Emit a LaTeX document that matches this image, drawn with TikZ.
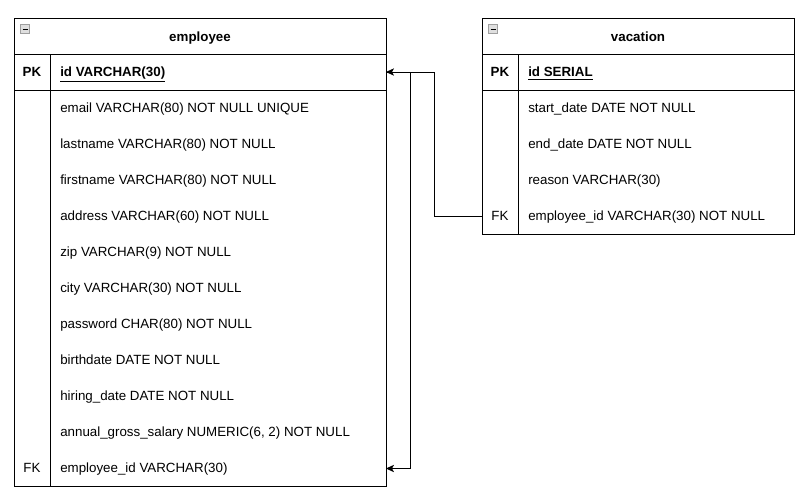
\documentclass[tikz,border=0pt]{standalone}
\usepackage{fontspec}
\setmainfont{Liberation Sans}
\usetikzlibrary{arrows.meta,positioning}

\tikzset{
tbl/.style={draw=black, line width=0.75pt},
icon/.style={draw=gray!75, fill=gray!25, line width=0.6pt},
txt/.style={inner sep=0pt, text height=7.2pt, text depth=2pt},
ttl/.style={txt, font=\fontsize{10}{12}\selectfont\bfseries},
keycol/.style={txt, font=\fontsize{10}{12}\selectfont},
fld/.style={txt, anchor=west, font=\fontsize{10}{12}\selectfont},
rel/.style={line width=0.75pt, -{Stealth[length=6pt,width=5.5pt,inset=1.5pt]}}
}

\begin{document}
\begin{tikzpicture}[x=0.75pt,y=-0.75pt]
\useasboundingbox (0,0) rectangle (808,501);

% tabelle employee
\draw[tbl] (14,18) rectangle (386,486);
\draw[tbl] (14,54) -- (386,54);
\draw[tbl] (14,90) -- (386,90);
\draw[tbl] (50,54) -- (50,486);
\draw[icon] (20.5,24.5) rectangle (29.5,33.5);
\draw[line width=0.75pt] (22.5,29) -- (27.5,29);
\node[ttl] (emp-title) at (200,38.3) {employee};
\node[keycol, font=\fontsize{10}{12}\selectfont\bfseries] (emp-pk) at (32,73.3) {PK};
\node[fld, font=\fontsize{10}{12}\selectfont\bfseries] (emp-id) at (60,73.3) {\underline{id VARCHAR(30)}};
\foreach \txt [count=\i] in {
 {email VARCHAR(80) NOT NULL UNIQUE},
 {lastname VARCHAR(80) NOT NULL},
 {firstname VARCHAR(80) NOT NULL},
 {address VARCHAR(60) NOT NULL},
 {zip VARCHAR(9) NOT NULL},
 {city VARCHAR(30) NOT NULL},
 {password CHAR(80) NOT NULL},
 {birthdate DATE NOT NULL},
 {hiring\_date DATE NOT NULL},
 {annual\_gross\_salary NUMERIC(6, 2) NOT NULL},
 {employee\_id VARCHAR(30)}}
{ \node[fld] (emp-f\i) at (60,{73.3+36*\i}) {\txt};
}
\node[keycol] (emp-fk) at (32,469.3) {FK};
\coordinate (emp-id-e) at (386,72);
\coordinate (emp-fk-e) at (386,468.5);

% tabelle vacation
\draw[tbl] (482,18) rectangle (794,234);
\draw[tbl] (482,54) -- (794,54);
\draw[tbl] (482,90) -- (794,90);
\draw[tbl] (518,54) -- (518,234);
\draw[icon] (488.5,24.5) rectangle (497.5,33.5);
\draw[line width=0.75pt] (490.5,29) -- (495.5,29);
\node[ttl] (vac-title) at (638,38.3) {vacation};
\node[keycol, font=\fontsize{10}{12}\selectfont\bfseries] (vac-pk) at (500,73.3) {PK};
\node[fld, font=\fontsize{10}{12}\selectfont\bfseries] (vac-id) at (528,73.3) {\underline{id SERIAL}};
\foreach \txt [count=\i] in {
 {start\_date DATE NOT NULL},
 {end\_date DATE NOT NULL},
 {reason VARCHAR(30)},
 {employee\_id VARCHAR(30) NOT NULL}}
{ \node[fld] (vac-f\i) at (528,{73.3+36*\i}) {\txt};
}
\node[keycol] (vac-fk) at (500,217.3) {FK};
\coordinate (vac-fk-w) at (482,216.5);

% beziehungen
\draw[rel] (vac-fk-w) -- ++(-48,0) |- (emp-id-e);
\draw[rel] (emp-id-e) -- ++(24,0) |- (emp-fk-e);
\end{tikzpicture}
\end{document}
